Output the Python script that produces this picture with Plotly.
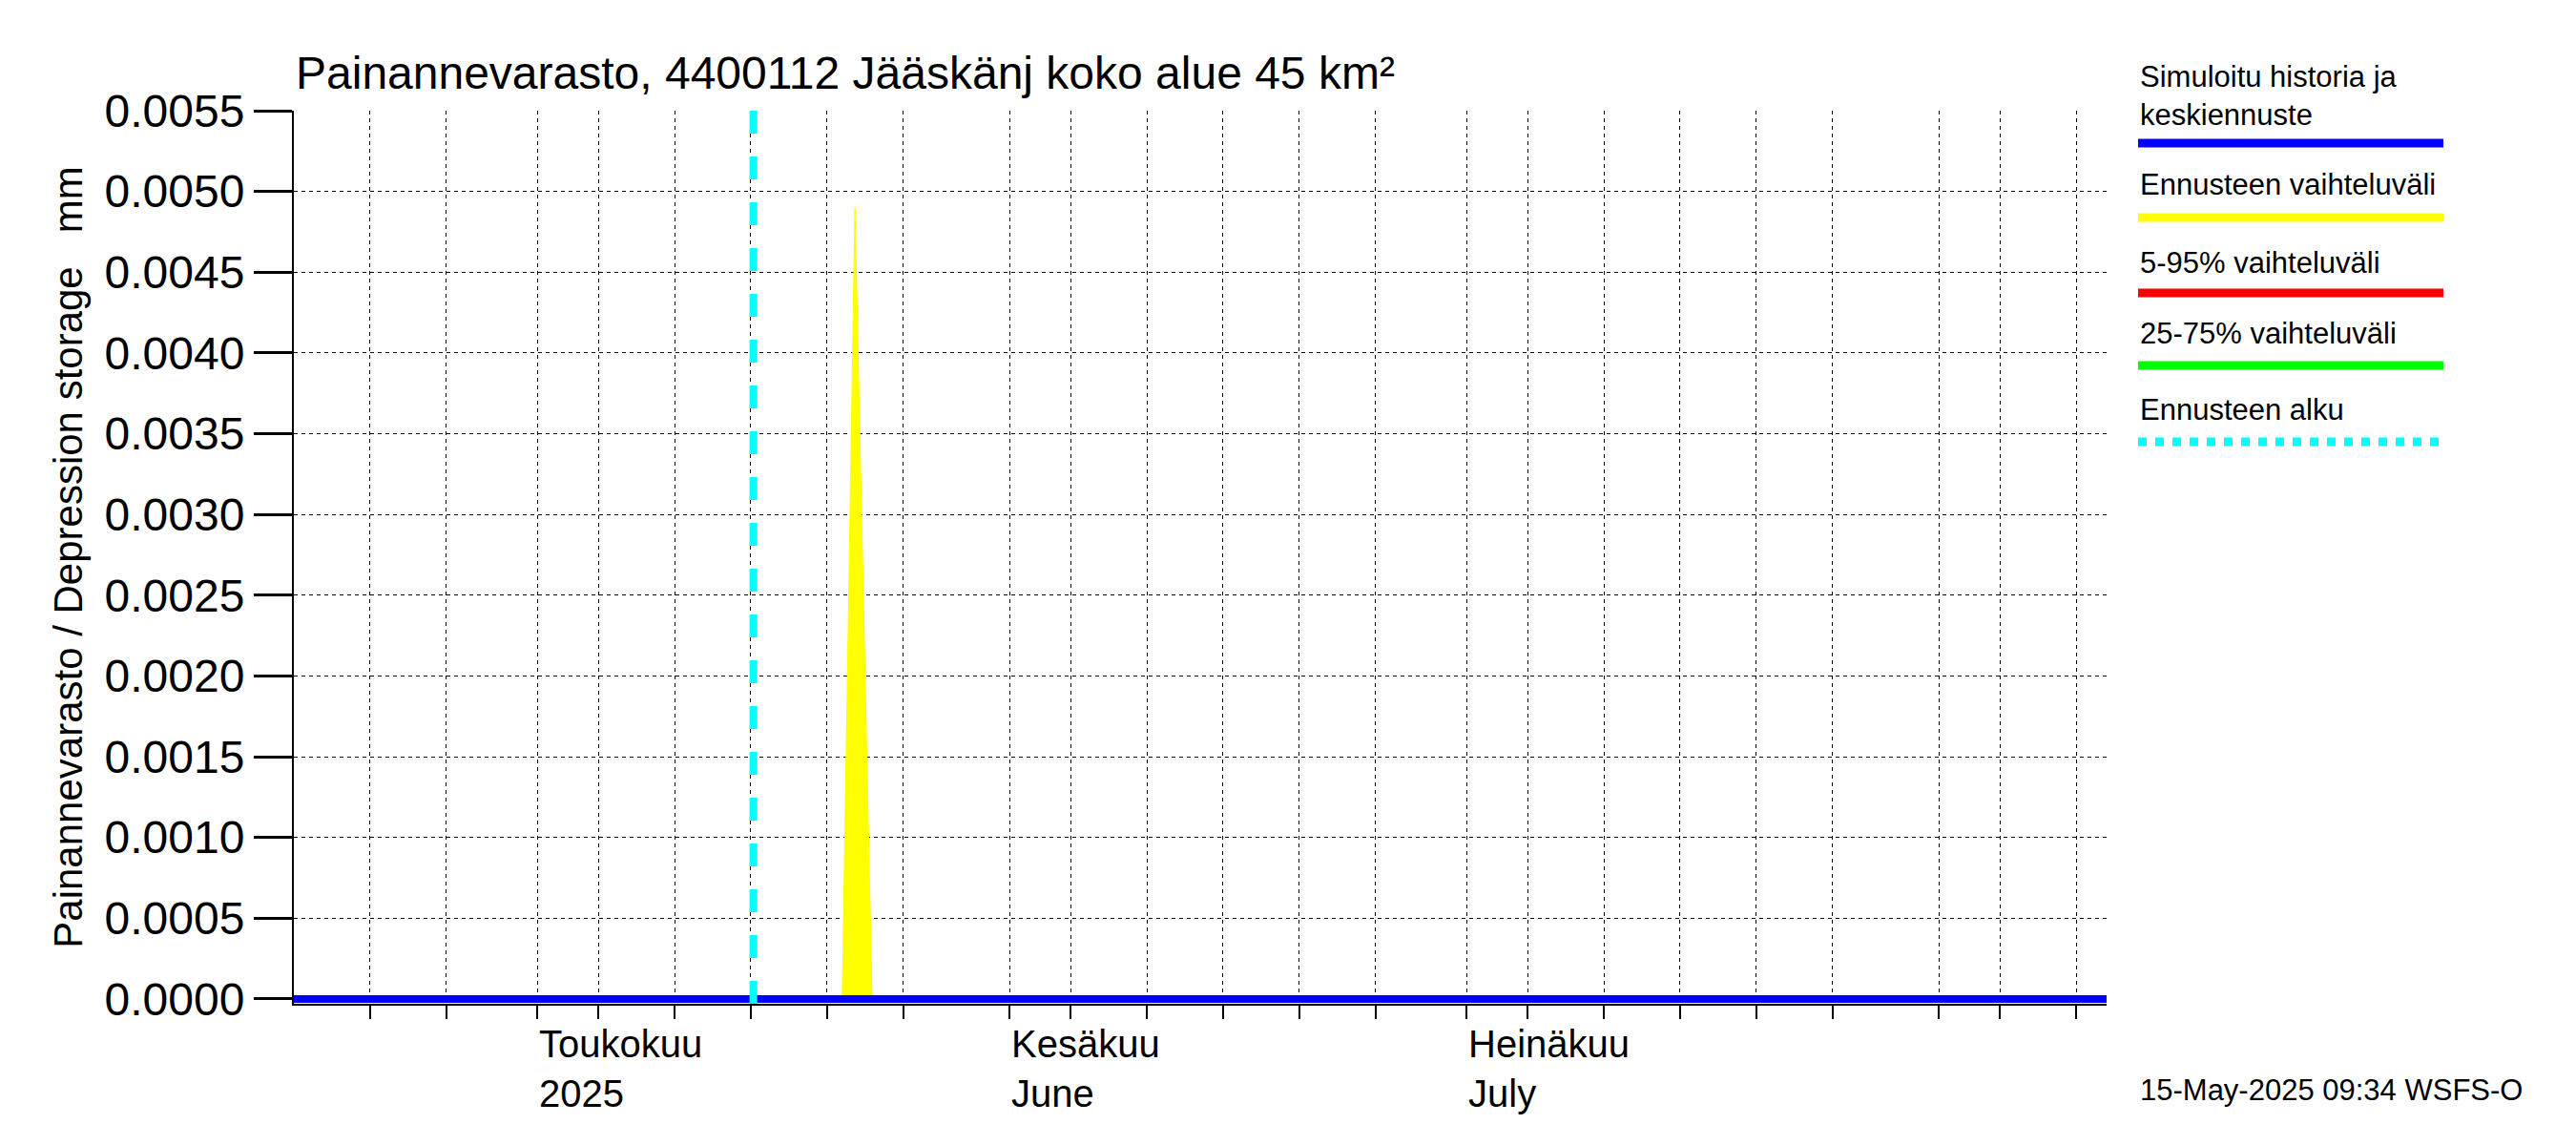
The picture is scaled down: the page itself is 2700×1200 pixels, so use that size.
import plotly.graph_objects as go
import pandas as pd

# Data
hist_dates = ["2025-04-15", "2025-08-12"]
hist_values = [0.0, 0.0]
band_dates = ["2025-05-21", "2025-05-21 20:00", "2025-05-22 23:00"]
band_upper = [0.0, 0.0049, 0.0]
forecast_start = "2025-05-15 04:00"
ytick_vals = [0.0, 0.0005, 0.001, 0.0015, 0.002, 0.0025, 0.003, 0.0035, 0.004, 0.0045, 0.005, 0.0055]
month_labels = [("2025-05-01", "Toukokuu<br>2025"), ("2025-06-01", "Kesäkuu<br>June"), ("2025-07-01", "Heinäkuu<br>July")]
legend_items = ["Simuloitu historia ja<br>keskiennuste", "Ennusteen vaihteluväli", "5-95% vaihteluväli", "25-75% vaihteluväli", "Ennusteen alku"]
legend_colors = ["#0000ff", "#ffff00", "#ff0000", "#00ff00", "#00ffff"]

W, H = 2700, 1200
L, R, T, B = 300, 500, 108, 156
PW, PH = W - L - R, H - T - B
def px(x): return (x - L) / PW
def py(y): return (H - B - y) / PH

FONT = "Liberation Sans, Arial, sans-serif"
fig = go.Figure()
fig.add_trace(go.Scatter(x=band_dates, y=band_upper, fill="tozeroy", mode="lines",
                         line=dict(color="#ffff00", width=1), fillcolor="#ffff00", showlegend=False))
fig.add_trace(go.Scatter(x=hist_dates, y=hist_values, mode="lines",
                         line=dict(color="#0000ff", width=8), showlegend=False))
fig.add_shape(type="line", x0=forecast_start, x1=forecast_start, y0=0, y1=1, xref="x", yref="paper",
              line=dict(color="#00ffff", width=8, dash="dash"))

grid = []
for m in ["2025-04", "2025-05", "2025-06", "2025-07", "2025-08"]:
    for d in [1, 5, 10, 15, 20, 25]:
        dt = f"{m}-{d:02d}"
        if "2025-04-15" < dt < "2025-08-12":
            grid.append(dt)

fig.update_xaxes(range=["2025-04-15", "2025-08-12"], tickvals=grid, ticktext=[""] * len(grid),
                 showgrid=True, gridcolor="#000000", griddash="4px,4px", gridwidth=1,
                 ticks="outside", ticklen=14, tickwidth=2, tickcolor="black",
                 showline=True, linecolor="black", linewidth=2, zeroline=False)
fig.update_yaxes(range=[-0.00003, 0.0055], tickvals=ytick_vals, tickformat=".4f",
                 showgrid=True, gridcolor="#000000", griddash="4px,4px", gridwidth=1,
                 ticks="outside", ticklen=40, tickwidth=3, tickcolor="black",
                 showline=True, linecolor="black", linewidth=2, zeroline=False,
                 tickfont=dict(size=48, family=FONT, color="black"),
                 title=dict(text="Painannevarasto / Depression storage   mm", font=dict(size=42, family=FONT, color="black"), standoff=10))

ann = []
for d, t in month_labels:
    ann.append(dict(x=d, y=py(1112), xref="x", yref="paper", text=t, showarrow=False, xanchor="left", yanchor="middle",
                    align="left", font=dict(size=40, family=FONT, color="black")))
ann.append(dict(x=px(300), y=py(69), xref="paper", yref="paper", text="Painannevarasto, 4400112 Jääskänj koko alue 45 km²",
                showarrow=False, xanchor="left", yanchor="middle", font=dict(size=48, family=FONT, color="black")))
ann.append(dict(x=px(2233), y=py(1134), xref="paper", yref="paper", text="15-May-2025 09:34 WSFS-O",
                showarrow=False, xanchor="left", yanchor="middle", font=dict(size=31, family=FONT, color="black")))

text_y = [92, 185, 268, 341, 421]
line_y = [142, 220, 299, 375, 455]
for i, (t, c) in enumerate(zip(legend_items, legend_colors)):
    ann.append(dict(x=px(2233), y=py(text_y[i]), xref="paper", yref="paper", text=t, showarrow=False,
                    xanchor="left", yanchor="middle", align="left", font=dict(size=31, family=FONT, color="black")))
    fig.add_shape(type="line", xref="paper", yref="paper", x0=px(2233), x1=px(2553), y0=py(line_y[i]), y1=py(line_y[i]),
                  line=dict(color=c, width=9, dash="dot" if i == 4 else "solid"))

fig.update_layout(width=W, height=H, margin=dict(l=L, r=R, t=T, b=B), plot_bgcolor="white", paper_bgcolor="white",
                  annotations=ann, showlegend=False)
fig.write_html("out.html")
